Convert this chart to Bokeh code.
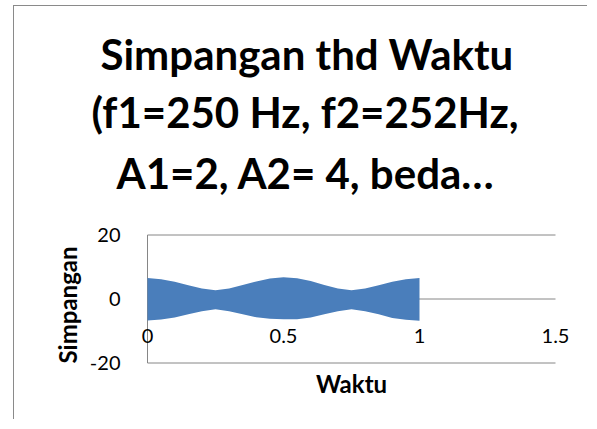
from bokeh.plotting import figure
from bokeh.models import Range1d, FixedTicker, LabelSet, ColumnDataSource, Title
from bokeh.core.properties import value
from bokeh.embed import file_html
from bokeh.resources import INLINE

# ---- data (envelope of the dense oscillation) ----
waktu = [0.0, 0.05, 0.1, 0.15, 0.2, 0.25, 0.3, 0.35, 0.4, 0.45, 0.5,
         0.55, 0.6, 0.65, 0.7, 0.75, 0.8, 0.85, 0.9, 0.95, 1.0]
simpangan_atas = [6.6, 6.2, 5.4, 4.3, 3.3, 2.7, 3.3, 4.4, 5.5, 6.4, 6.8,
                  6.5, 5.6, 4.4, 3.3, 2.7, 3.3, 4.3, 5.4, 6.2, 6.6]
simpangan_bawah = [-6.7, -6.4, -5.8, -4.8, -3.8, -3.2, -3.8, -4.8, -5.7, -6.2, -6.3,
                   -6.3, -5.8, -4.8, -3.8, -3.2, -3.8, -4.8, -5.9, -6.5, -6.8]
x_ticks = [0, 0.5, 1, 1.5]
x_tick_labels = ["0", "0.5", "1", "1.5"]
y_ticks = [-20, 0, 20]
y_tick_labels = ["-20", "0", "20"]
title_lines = ["Simpangan thd Waktu", "(f1=250 Hz, f2=252Hz,", "A1=2, A2= 4, beda\u2026"]
title_offsets = [-27, -36, -11]
title_standoffs = [0, 12, 6]
x_title = "Waktu"
y_title = "Simpangan"

W, H = 574, 414
FL, FR = 113, 561
FT, FB = 227, 358
PX_PER_X = 272.0
PX_PER_Y = 3.2
x0 = x_ticks[0] - 20 / PX_PER_X
x1 = x_ticks[-1] + 20 / PX_PER_X
ytop = y_ticks[-1] + 1.5 / PX_PER_Y

GRAY = "#868686"
FONT = "Lato"

p = figure(width=W, height=H, output_backend="svg", toolbar_location=None,
           x_range=Range1d(x0, x1), y_range=Range1d(-ytop, ytop),
           min_border_left=FL, min_border_right=W - FR,
           min_border_top=FT, min_border_bottom=H - FB,
           styles={"margin-left": "13px", "margin-top": "5px",
                   "border-left": "1px solid #8a8a8a", "border-top": "1px solid #8a8a8a"})
p.outline_line_color = None
p.background_fill_color = "white"
p.border_fill_color = "white"
p.xgrid.visible = False
p.ygrid.visible = False

# y axis: only tick labels (line drawn as glyph at x = 0)
ya = p.yaxis[0]
ya.ticker = FixedTicker(ticks=y_ticks)
ya.major_label_overrides = {t: s for t, s in zip(y_ticks, y_tick_labels)}
ya.major_tick_line_color = None
ya.minor_tick_line_color = None
ya.axis_line_color = None
ya.major_label_standoff = 1
ya.major_label_text_font = FONT
ya.major_label_text_font_size = "20px"
ya.major_label_text_color = "black"

# x axis: only carries the axis title
xa = p.xaxis[0]
xa.ticker = FixedTicker(ticks=[])
xa.major_tick_line_color = None
xa.minor_tick_line_color = None
xa.axis_line_color = None
xa.major_label_text_font_size = "0px"
xa.axis_label = x_title
xa.axis_label_standoff = 4
xa.axis_label_text_font = FONT
xa.axis_label_text_font_style = "bold"
xa.axis_label_text_font_size = "24px"
xa.axis_label_text_color = "black"

# gridlines and axis lines
p.segment(x0=[x_ticks[0]] * len(y_ticks), x1=[x_ticks[-1]] * len(y_ticks),
          y0=y_ticks, y1=y_ticks, line_color=GRAY, line_width=1)
p.segment(x0=[x_ticks[0]], x1=[x_ticks[0]], y0=[y_ticks[0]], y1=[y_ticks[-1]],
          line_color=GRAY, line_width=1)

p.varea(x=waktu, y1=simpangan_bawah, y2=simpangan_atas, fill_color="#4A7EBB")

src = ColumnDataSource(dict(x=x_ticks, y=[0] * len(x_ticks), t=x_tick_labels))
p.add_layout(LabelSet(x="x", y="y", text="t", source=src, text_align="center",
                      text_baseline="alphabetic", y_offset=-44,
                      text_font=value(FONT), text_font_size=value("20px"),
                      text_color="black"))

# y axis title as a left title
p.add_layout(Title(text=y_title, align="left", offset=1, standoff=10,
                   text_font=FONT, text_font_style="bold", text_font_size="24px",
                   text_color="black"), "left")

# chart title: three lines
def style_title(t, text, off, so):
    t.text = text
    t.align = "left"
    t.offset = off
    t.standoff = so
    t.text_font = FONT
    t.text_font_style = "bold"
    t.text_font_size = "42px"
    t.text_color = "black"

# spacer between the frame and the title block
p.add_layout(Title(text=" ", text_font_size="1px", standoff=30), "above")
style_title(p.title, title_lines[0], title_offsets[0], title_standoffs[0])
for i in (2, 1):
    t = Title()
    style_title(t, title_lines[i], title_offsets[i], title_standoffs[i])
    p.add_layout(t, "above")

open("out.html", "w").write(file_html(p, INLINE))
